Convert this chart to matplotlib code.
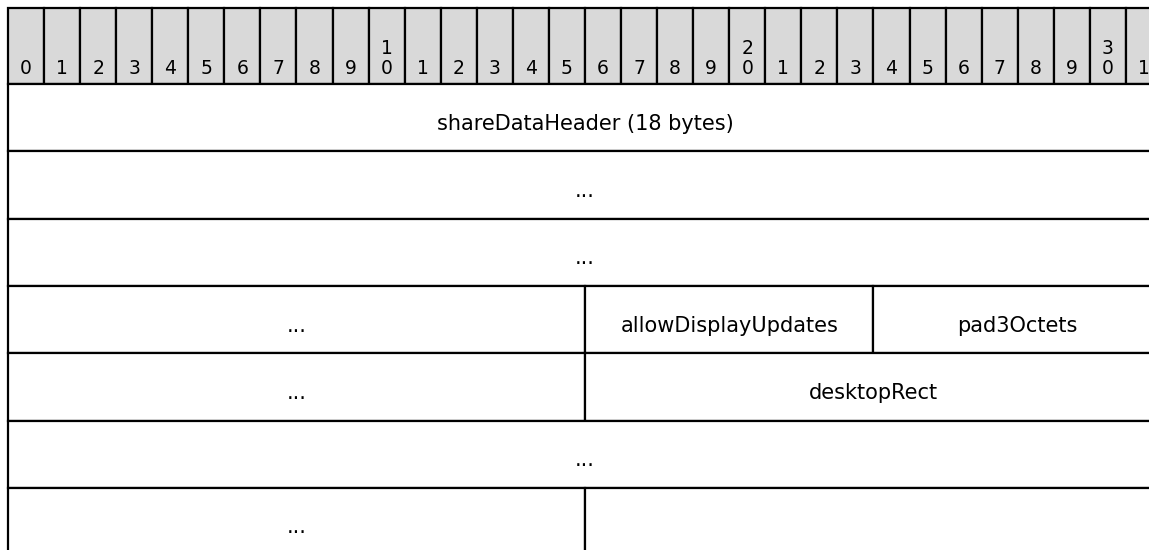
import matplotlib
matplotlib.use("Agg")
import matplotlib.pyplot as plt
from matplotlib.patches import Rectangle

# packet layout: one entry per field
field_labels = [
    "shareDataHeader (18 bytes)",
    "...",
    "...",
    "...", "allowDisplayUpdates", "pad3Octets",
    "...", "desktopRect",
    "...",
    "...", "",
]
field_rows = [0, 1, 2, 3, 3, 3, 4, 4, 5, 6, 6]
field_starts = [0, 0, 0, 0, 16, 24, 0, 16, 0, 0, 16]
field_widths = [32, 32, 32, 16, 8, 8, 16, 16, 32, 16, 16]

n_bits = 32
# header labels: last digit, with the tens digit stacked above on multiples of ten
bit_ticks = [str(b) if b < 10 else (str(b)[-1] if b % 10 else "{}\n{}".format(b // 10, b % 10))
             for b in range(n_bits)]

# geometry in pixels
W, H = 1149, 550
x0, cell = 8, 36.06
y0, head_h, row_h = 8, 76, 67.3
lw = 1.6
font = 15
digit_font = 13.5

fig = plt.figure(figsize=(W / 100, H / 100), dpi=100)
ax = fig.add_axes([0, 0, 1, 1])
ax.set_xlim(-x0 / cell, (W - x0) / cell)
# y measured in pixels downward
ax.set_ylim(H, 0)
ax.axis("off")

# header
for b, t in enumerate(bit_ticks):
    ax.add_patch(Rectangle((b, y0), 1, head_h, facecolor="#d9d9d9",
                           edgecolor="black", lw=lw))
    lines = t.split("\n")
    if len(lines) == 2:
        ax.text(b + 0.5, y0 + 40, lines[0], ha="center", va="center",
                fontsize=digit_font, family="DejaVu Sans")
    ax.text(b + 0.5, y0 + 60, lines[-1], ha="center", va="center",
            fontsize=digit_font, family="DejaVu Sans")

# fields
top = y0 + head_h
for label, r, s, w in zip(field_labels, field_rows, field_starts, field_widths):
    yt = top + r * row_h
    ax.add_patch(Rectangle((s, yt), w, row_h, facecolor="white",
                           edgecolor="black", lw=lw))
    if label:
        ax.text(s + w / 2, yt + row_h / 2 + 6, label, ha="center", va="center",
                fontsize=font, family="DejaVu Sans")

fig.savefig("out.png", dpi=100)
